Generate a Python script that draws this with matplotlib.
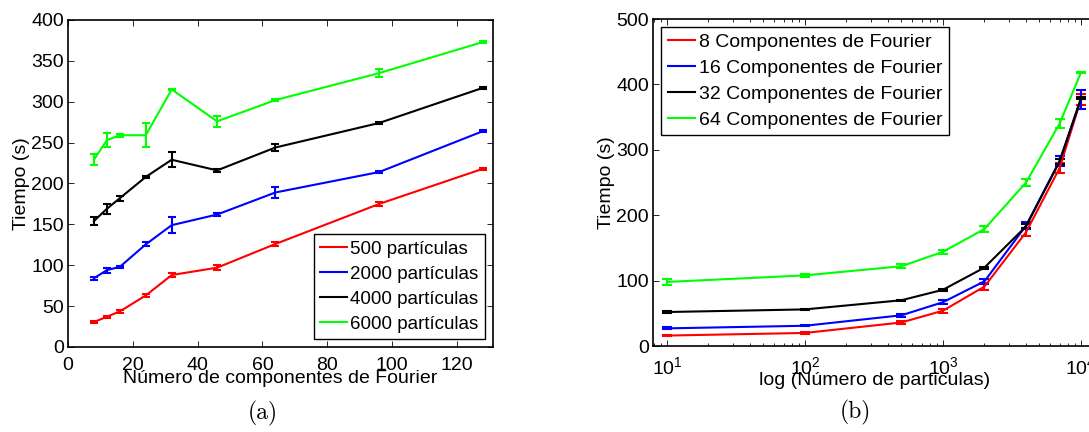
import matplotlib
matplotlib.use('Agg')
import matplotlib.pyplot as plt
import numpy as np
from matplotlib.lines import Line2D
from matplotlib.ticker import LogLocator, NullFormatter, FixedLocator

plt.rcParams['font.family'] = ['Liberation Sans', 'DejaVu Sans']
plt.rcParams['mathtext.fontset'] = 'custom'
plt.rcParams['mathtext.rm'] = 'Liberation Sans'
plt.rcParams['mathtext.it'] = 'Liberation Sans'

# (a) tiempo vs número de componentes de Fourier
componentes = [8, 12, 16, 24, 32, 46, 64, 96, 128]
t_500 = [30.5, 37, 43.5, 63, 88, 97, 126, 175, 218]
e_500 = [1.5, 1.5, 1.5, 1.5, 2, 3, 2, 2, 1.5]
t_2000 = [84, 94, 98, 125.5, 149, 162, 189, 214, 264]
e_2000 = [1.5, 3, 1.5, 2.5, 9.5, 1.5, 7, 1.5, 1.5]
t_4000 = [154, 169, 182, 208, 229, 216, 244, 274, 317]
e_4000 = [5, 6, 3, 1.5, 9, 1.5, 4.5, 1.5, 1]
t_6000 = [229, 253, 259, 259, 315, 276, 302, 335, 373]
e_6000 = [7, 9, 2, 15, 1, 6.5, 1, 5, 1]
labels_a = ['500 partículas', '2000 partículas', '4000 partículas', '6000 partículas']

# (b) tiempo vs número de partículas
particulas = [10, 100, 500, 1000, 2000, 4000, 7000, 10000]
t_c8 = [16, 20, 36, 54, 91, 174, 272, 377]
e_c8 = [1, 1, 2, 3, 5, 6, 8, 8]
t_c16 = [27, 31, 47, 67, 99, 184, 283, 377]
e_c16 = [1.5, 1, 2, 3, 4, 5, 7, 14]
t_c32 = [52, 56, 70, 86, 120, 183, 282, 379]
e_c32 = [1, 1, 1, 1.5, 1.5, 3, 4, 2]
t_c64 = [98, 108, 122, 144, 179, 250, 340, 418]
e_c64 = [4, 2, 3, 3, 4, 5, 7, 1]
labels_b = ['8 Componentes de Fourier', '16 Componentes de Fourier',
            '32 Componentes de Fourier', '64 Componentes de Fourier']

colors = ['#FF0000', '#0000FF', '#000000', '#00FF00']

fig = plt.figure(figsize=(10.89, 4.32), dpi=100)
ax1 = fig.add_axes([0.0624, 0.1968, 0.390, 0.757])
ax2 = fig.add_axes([0.5996, 0.199, 0.4068, 0.757])

fs = 14

for y, e, c in zip([t_500, t_2000, t_4000, t_6000],
                   [e_500, e_2000, e_4000, e_6000], colors):
    ax1.errorbar(componentes, y, yerr=e, color=c, lw=1.5, elinewidth=1.5,
                 capsize=2.6, capthick=1.5)

for y, e, c in zip([t_c8, t_c16, t_c32, t_c64],
                   [e_c8, e_c16, e_c32, e_c64], colors):
    ax2.errorbar(particulas, y, yerr=e, color=c, lw=1.5, elinewidth=1.5,
                 capsize=3.3, capthick=1.5)

handles = [Line2D([], [], color=c, lw=1.5) for c in colors]
leg_kw = dict(handlelength=1.4, handletextpad=0.2,
              labelspacing=0.42, borderpad=0.35, borderaxespad=0.4,
              fancybox=False, framealpha=1)

# Eje (a)
ax1.set_xlim(0, 131)
ax1.set_ylim(0, 400)
ax1.set_xticks(np.arange(0, 121, 20))
ax1.set_yticks(np.arange(0, 401, 50))
ax1.set_xlabel('Número de componentes de Fourier', fontsize=fs, labelpad=-3)
ax1.set_ylabel('Tiempo (s)', fontsize=fs, labelpad=1)
leg1 = ax1.legend(handles, labels_a, loc='lower right', fontsize=13.5, **leg_kw)
leg1.get_frame().set_edgecolor('black')
leg1.get_frame().set_linewidth(1.0)

# Eje (b)
ax2.set_xscale('log')
ax2.set_xlim(7.92, 12850)
ax2.set_ylim(0, 500)
ax2.set_yticks(np.arange(0, 501, 100))
ax2.xaxis.set_major_locator(FixedLocator([10, 100, 1000, 10000]))
ax2.xaxis.set_minor_locator(LogLocator(base=10, subs=np.arange(2, 10)))
ax2.xaxis.set_minor_formatter(NullFormatter())
ax2.set_xlabel('log (Número de particulas)', fontsize=fs, labelpad=-4)
ax2.set_ylabel('Tiempo (s)', fontsize=fs, labelpad=1)
leg2 = ax2.legend(handles, labels_b, loc='upper left', fontsize=fs, **leg_kw)
leg2.get_frame().set_edgecolor('black')
leg2.get_frame().set_linewidth(1.0)

for ax in (ax1, ax2):
    ax.tick_params(which='both', direction='in', top=True, right=True,
                   labelsize=fs, width=0.6)
    ax.tick_params(axis='y', pad=3)
    ax.tick_params(axis='x', pad=7)
    ax.tick_params(which='major', length=4)
    ax.tick_params(which='minor', length=2)
    for s in ax.spines.values():
        s.set_linewidth(1.2)

fig.text(263 / 1089, 1 - 413 / 432, '(a)', family='cmr10', fontsize=17,
         ha='center', va='center')
fig.text(855 / 1089, 1 - 412 / 432, '(b)', family='cmr10', fontsize=17,
         ha='center', va='center')

fig.savefig('out.png', dpi=100)
